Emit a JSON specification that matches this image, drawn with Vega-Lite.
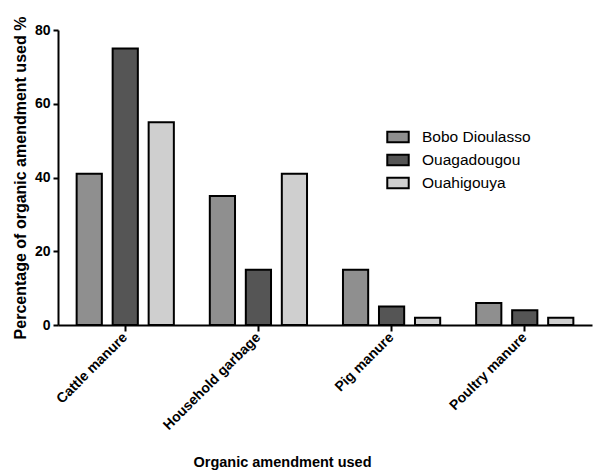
{
  "$schema": "https://vega.github.io/schema/vega-lite/v6.json",
  "width": 534,
  "height": 295,
  "autosize": {"type": "none"},
  "padding": {"left": 58, "top": 30, "right": 1, "bottom": 146},
  "background": "white",
  "data": {
    "values": [
      {"type": "Cattle manure", "city": "Bobo Dioulasso", "pct": 41},
      {"type": "Cattle manure", "city": "Ouagadougou", "pct": 75},
      {"type": "Cattle manure", "city": "Ouahigouya", "pct": 55},
      {"type": "Household garbage", "city": "Bobo Dioulasso", "pct": 35},
      {"type": "Household garbage", "city": "Ouagadougou", "pct": 15},
      {"type": "Household garbage", "city": "Ouahigouya", "pct": 41},
      {"type": "Pig manure", "city": "Bobo Dioulasso", "pct": 15},
      {"type": "Pig manure", "city": "Ouagadougou", "pct": 5},
      {"type": "Pig manure", "city": "Ouahigouya", "pct": 2},
      {"type": "Poultry manure", "city": "Bobo Dioulasso", "pct": 6},
      {"type": "Poultry manure", "city": "Ouagadougou", "pct": 4},
      {"type": "Poultry manure", "city": "Ouahigouya", "pct": 2}
    ]
  },
  "config": {
    "view": {"stroke": null},
    "font": "Liberation Sans"
  },
  "mark": {"type": "bar", "stroke": "black", "strokeWidth": 2},
  "encoding": {
    "x": {
      "field": "type",
      "type": "nominal",
      "sort": null,
      "scale": {"paddingInner": 0.27, "paddingOuter": 0.14},
      "axis": {
        "title": "Organic amendment used",
        "titleFontSize": 14.5,
        "titleFontWeight": "bold",
        "titleColor": "black",
        "titleX": 224,
        "titleY": 141,
        "titleBaseline": "alphabetic",
        "labelAngle": -45,
        "labelAlign": "right",
        "labelBaseline": "middle",
        "labelFontSize": 14,
        "labelFontWeight": "bold",
        "labelColor": "black",
        "labelPadding": 4,
        "domainColor": "black",
        "domainWidth": 2,
        "tickColor": "black",
        "tickWidth": 2,
        "tickSize": 6,
        "grid": false
      }
    },
    "xOffset": {
      "field": "city",
      "type": "nominal",
      "scale": {"paddingInner": 0.3}
    },
    "y": {
      "field": "pct",
      "type": "quantitative",
      "scale": {"domain": [0, 80]},
      "axis": {
        "title": "Percentage of organic amendment used %",
        "titleFontSize": 16,
        "titleFontWeight": "bold",
        "titleColor": "black",
        "titlePadding": 6,
        "values": [0, 20, 40, 60, 80],
        "labelFontSize": 14,
        "labelFontWeight": "bold",
        "labelColor": "black",
        "labelPadding": 3,
        "domainColor": "black",
        "domainWidth": 2,
        "tickColor": "black",
        "tickWidth": 2,
        "tickSize": 5,
        "grid": false
      }
    },
    "fill": {
      "field": "city",
      "type": "nominal",
      "scale": {
        "domain": ["Bobo Dioulasso", "Ouagadougou", "Ouahigouya"],
        "range": ["#8f8f8f", "#555555", "#cfcfcf"]
      },
      "legend": {
        "title": null,
        "orient": "none",
        "legendX": 328,
        "legendY": 95,
        "symbolType": "M-1,-0.5H1V0.5H-1Z",
        "symbolSize": 460,
        "symbolStrokeColor": "black",
        "symbolStrokeWidth": 2,
        "labelFontSize": 15.5,
        "labelColor": "black",
        "labelOffset": 12,
        "rowPadding": 1
      }
    }
  }
}
